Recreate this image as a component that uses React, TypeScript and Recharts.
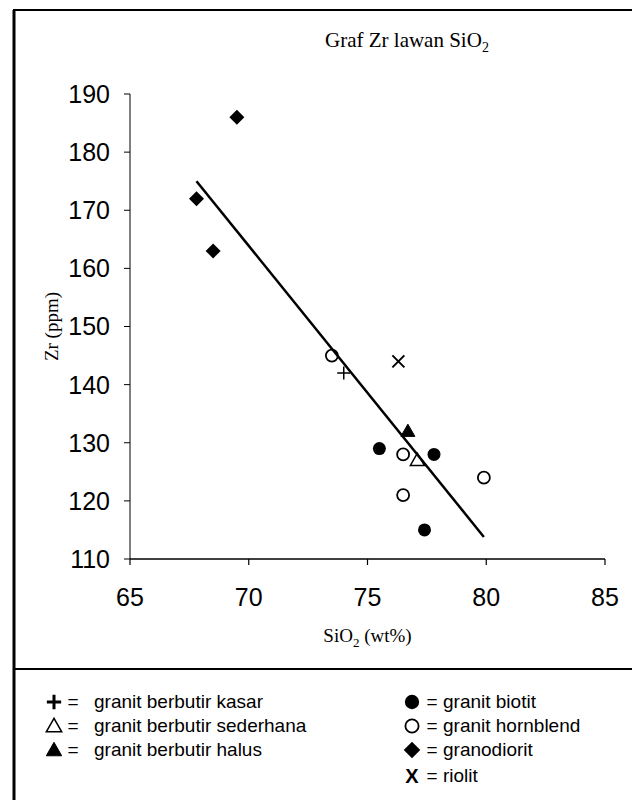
import React from 'react'
import { ComposedChart, Scatter, XAxis, YAxis, Label } from 'recharts'

// axis ticks
const xTicks = [65, 70, 75, 80, 85]
const yTicks = [110, 120, 130, 140, 150, 160, 170, 180, 190]

// SiO2 (wt%) vs Zr (ppm)
const granitKasar = [{ x: 74.0, y: 142 }]
const granitSederhana = [{ x: 77.1, y: 127 }]
const granitHalus = [{ x: 76.7, y: 132 }]
const granitBiotit = [
  { x: 75.5, y: 129 },
  { x: 77.8, y: 128 },
  { x: 77.4, y: 115 },
]
const granitHornblend = [
  { x: 73.5, y: 145 },
  { x: 76.5, y: 128 },
  { x: 76.5, y: 121 },
  { x: 79.9, y: 124 },
]
const granodiorit = [
  { x: 69.5, y: 186 },
  { x: 67.8, y: 172 },
  { x: 68.5, y: 163 },
]
const riolit = [{ x: 76.3, y: 144 }]

// regression line end points
const trendLine = [
  { x: 67.8, y: 175 },
  { x: 79.9, y: 113.8 },
]

const ink = '#000'
const sans = '"Liberation Sans", Arial, sans-serif'
const serif = '"Liberation Serif", "Times New Roman", serif'

type Kind = 'plus' | 'triOpen' | 'triFilled' | 'dotFilled' | 'dotOpen' | 'diamond' | 'cross'

const series: { name: string; data: { x: number; y: number }[]; kind: Kind }[] = [
  { name: 'granit berbutir kasar', data: granitKasar, kind: 'plus' },
  { name: 'granit berbutir sederhana', data: granitSederhana, kind: 'triOpen' },
  { name: 'granit berbutir halus', data: granitHalus, kind: 'triFilled' },
  { name: 'granit biotit', data: granitBiotit, kind: 'dotFilled' },
  { name: 'granit hornblend', data: granitHornblend, kind: 'dotOpen' },
  { name: 'granodiorit', data: granodiorit, kind: 'diamond' },
  { name: 'riolit', data: riolit, kind: 'cross' },
]

function marker(kind: Kind, cx: number, cy: number, big = false) {
  const k = big ? 1.1 : 1
  switch (kind) {
    case 'plus': {
      const s = 6.5 * k
      return (
        <path
          d={`M${cx - s},${cy}H${cx + s}M${cx},${cy - s}V${cy + s}`}
          stroke={ink}
          strokeWidth={big ? 3 : 1.5}
          fill="none"
        />
      )
    }
    case 'triOpen':
    case 'triFilled': {
      const s = 7 * k
      const pts = `${cx},${cy - s} ${cx - s},${cy + s * 0.75} ${cx + s},${cy + s * 0.75}`
      return kind === 'triOpen' ? (
        <polygon points={pts} fill="none" stroke={ink} strokeWidth={1.5} />
      ) : (
        <polygon points={pts} fill={ink} stroke={ink} strokeWidth={1} />
      )
    }
    case 'dotFilled':
      return <circle cx={cx} cy={cy} r={6.5 * k} fill={ink} />
    case 'dotOpen':
      return <circle cx={cx} cy={cy} r={6 * k} fill="none" stroke={ink} strokeWidth={1.8} />
    case 'diamond': {
      const s = 7.5 * k
      return (
        <polygon
          points={`${cx},${cy - s} ${cx + s},${cy} ${cx},${cy + s} ${cx - s},${cy}`}
          fill={ink}
        />
      )
    }
    case 'cross': {
      if (big) {
        return (
          <text x={cx} y={cy + 7} textAnchor="middle" fontFamily={sans} fontWeight="bold" fontSize={20} fill={ink}>
            X
          </text>
        )
      }
      const s = 6
      return (
        <path
          d={`M${cx - s},${cy - s}L${cx + s},${cy + s}M${cx - s},${cy + s}L${cx + s},${cy - s}`}
          stroke={ink}
          strokeWidth={2}
        />
      )
    }
  }
  return <g />
}

const legendLeft = ['granit berbutir kasar', 'granit berbutir sederhana', 'granit berbutir halus']
const legendRight = ['granit biotit', 'granit hornblend', 'granodiorit', 'riolit']
const legendRows = [702, 726, 750, 776]

function LegendColumn({ names, x, eqGap, textGap }: { names: string[]; x: number; eqGap: number; textGap: number }) {
  return (
    <g>
      {names.map((name, i) => {
        const s = series.find((d) => d.name === name)!
        const cy = legendRows[i]
        return (
          <g key={name}>
            {marker(s.kind, x, cy, true)}
            <text x={x + eqGap} y={cy + 6} textAnchor="middle" fontFamily={sans} fontSize={19} fill={ink}>
              =
            </text>
            <text x={x + textGap} y={cy + 6} fontFamily={sans} fontSize={19} fill={ink}>
              {name}
            </text>
          </g>
        )
      })}
    </g>
  )
}

export default function App() {
  return (
    <div style={{ position: 'absolute', left: 0, top: 0, width: 632, height: 802, background: '#fff' }}>
      <ComposedChart
        width={632}
        height={802}
        margin={{ top: 94, right: 27, bottom: 153, left: 20 }}
      >
        <XAxis
          type="number"
          dataKey="x"
          domain={[65, 85]}
          ticks={xTicks}
          height={90}
          tickSize={6}
          tickMargin={23}
          axisLine={{ stroke: ink, strokeWidth: 1.5 }}
          tickLine={{ stroke: ink, strokeWidth: 1.2 }}
          tick={{ fill: ink, fontSize: 25, fontFamily: sans }}
          allowDataOverflow
        >
          <Label
            content={(p: any) => {
              const vb = p.viewBox
              return (
                <text x={vb.x + vb.width / 2} y={vb.y + 83} textAnchor="middle" fontFamily={serif} fontSize={19} fill={ink}>
                  SiO
                  <tspan fontSize={13} dy={5}>2</tspan>
                  <tspan dy={-5}> (wt%)</tspan>
                </text>
              )
            }}
          />
        </XAxis>
        <YAxis
          type="number"
          dataKey="y"
          domain={[110, 190]}
          ticks={yTicks}
          width={110}
          tickSize={6}
          tickMargin={14}
          axisLine={{ stroke: ink, strokeWidth: 1 }}
          tickLine={{ stroke: ink, strokeWidth: 1 }}
          tick={{ fill: ink, fontSize: 25, fontFamily: sans }}
          allowDataOverflow
        >
          <Label
            content={(p: any) => {
              const vb = p.viewBox
              const cy = vb.y + vb.height / 2
              const bx = vb.x + 38
              return (
                <text
                  x={bx}
                  y={cy}
                  transform={`rotate(-90, ${bx}, ${cy})`}
                  textAnchor="middle"
                  fontFamily={serif}
                  fontSize={19}
                  fill={ink}
                >
                  Zr (ppm)
                </text>
              )
            }}
          />
        </YAxis>
        <Scatter
          name="trend"
          data={trendLine}
          line={{ stroke: ink, strokeWidth: 2.5 }}
          shape={() => <g />}
          legendType="none"
          isAnimationActive={false}
        />
        {series.map((s) => (
          <Scatter
            key={s.name}
            name={s.name}
            data={s.data}
            shape={(p: any) => marker(s.kind, p.cx, p.cy)}
            isAnimationActive={false}
          />
        ))}
      </ComposedChart>
      <svg
        width={632}
        height={802}
        style={{ position: 'absolute', left: 0, top: 0, pointerEvents: 'none' }}
      >
        {/* frame */}
        <line x1={14} y1={10} x2={14} y2={800} stroke={ink} strokeWidth={3} />
        <line x1={13} y1={10} x2={632} y2={10} stroke={ink} strokeWidth={2} />
        <line x1={13} y1={669} x2={632} y2={669} stroke={ink} strokeWidth={2} />
        {/* title */}
        <text x={325} y={47} fontFamily={serif} fontSize={21} fill={ink}>
          Graf Zr lawan SiO
          <tspan fontSize={14} dy={5}>2</tspan>
        </text>
        <LegendColumn names={legendLeft} x={54} eqGap={19} textGap={40} />
        <LegendColumn names={legendRight} x={412} eqGap={20} textGap={31} />
      </svg>
    </div>
  )
}
